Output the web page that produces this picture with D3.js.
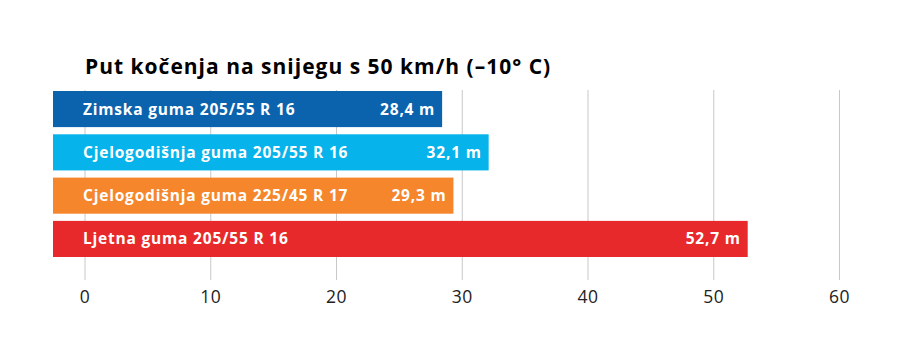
<!DOCTYPE html>
<html><head><meta charset="utf-8">
<script src="https://cdn.jsdelivr.net/npm/d3@7"></script>
<style>
body{margin:0;background:#fff;}
svg{display:block;}
</style></head>
<body>
<svg id="chart" width="903" height="353"></svg>
<script>
const title = "Put kočenja na snijegu s 50 km/h (–10° C)";
const categories = ["Zimska guma 205/55 R 16","Cjelogodišnja guma 205/55 R 16","Cjelogodišnja guma 225/45 R 17","Ljetna guma 205/55 R 16"];
const values = [28.4, 32.1, 29.3, 52.7];
const valueLabels = ["28,4 m","32,1 m","29,3 m","52,7 m"];
const colors = ["#0b63ae","#06b3ea","#f5862b","#e8292b"];
const ticks = [0,10,20,30,40,50,60];

const svg = d3.select("#chart");
const font = "'Open Sans', sans-serif";

const x = d3.scaleLinear().domain([0,60]).range([85, 839.5]);
const y = d3.scaleBand().domain(categories).range([91, 257]).paddingInner(0.166).paddingOuter(0);
const barStart = 53;

// gridlines
svg.append("g").selectAll("line").data(ticks).join("line")
  .attr("x1", d=>x(d)).attr("x2", d=>x(d))
  .attr("y1", 90).attr("y2", 280)
  .attr("stroke","#c8c8c8").attr("stroke-width",1);

// tick labels
svg.append("g").selectAll("text").data(ticks).join("text")
  .attr("x", d=>x(d)).attr("y", 303)
  .attr("text-anchor","middle")
  .attr("font-family",font).attr("font-size",17.5)
  .attr("letter-spacing",0.5)
  .attr("fill","#222")
  .text(d=>d);

// bars
const g = svg.append("g").selectAll("g").data(categories).join("g");
g.append("rect")
  .attr("x", barStart).attr("y", d=>y(d))
  .attr("width", (d,i)=>x(values[i]) - barStart)
  .attr("height", y.bandwidth())
  .attr("fill",(d,i)=>colors[i]);
g.append("text")
  .attr("x", 83).attr("y", d=>y(d)+y.bandwidth()/2+5.5)
  .attr("font-family",font).attr("font-weight",700).attr("font-size",15.5)
  .attr("letter-spacing",0.8)
  .attr("fill","#fff")
  .text(d=>d);
g.append("text")
  .attr("x", (d,i)=>x(values[i]) - 7).attr("y", d=>y(d)+y.bandwidth()/2+5.5)
  .attr("text-anchor","end")
  .attr("font-family",font).attr("font-weight",700).attr("font-size",15.5)
  .attr("letter-spacing",0.8)
  .attr("fill","#fff")
  .text((d,i)=>valueLabels[i]);

// title
svg.append("text").attr("x",85).attr("y",74)
  .attr("font-family",font).attr("font-weight",700).attr("font-size",21)
  .attr("letter-spacing",1)
  .attr("fill","#000")
  .text(title);
</script>
</body></html>
